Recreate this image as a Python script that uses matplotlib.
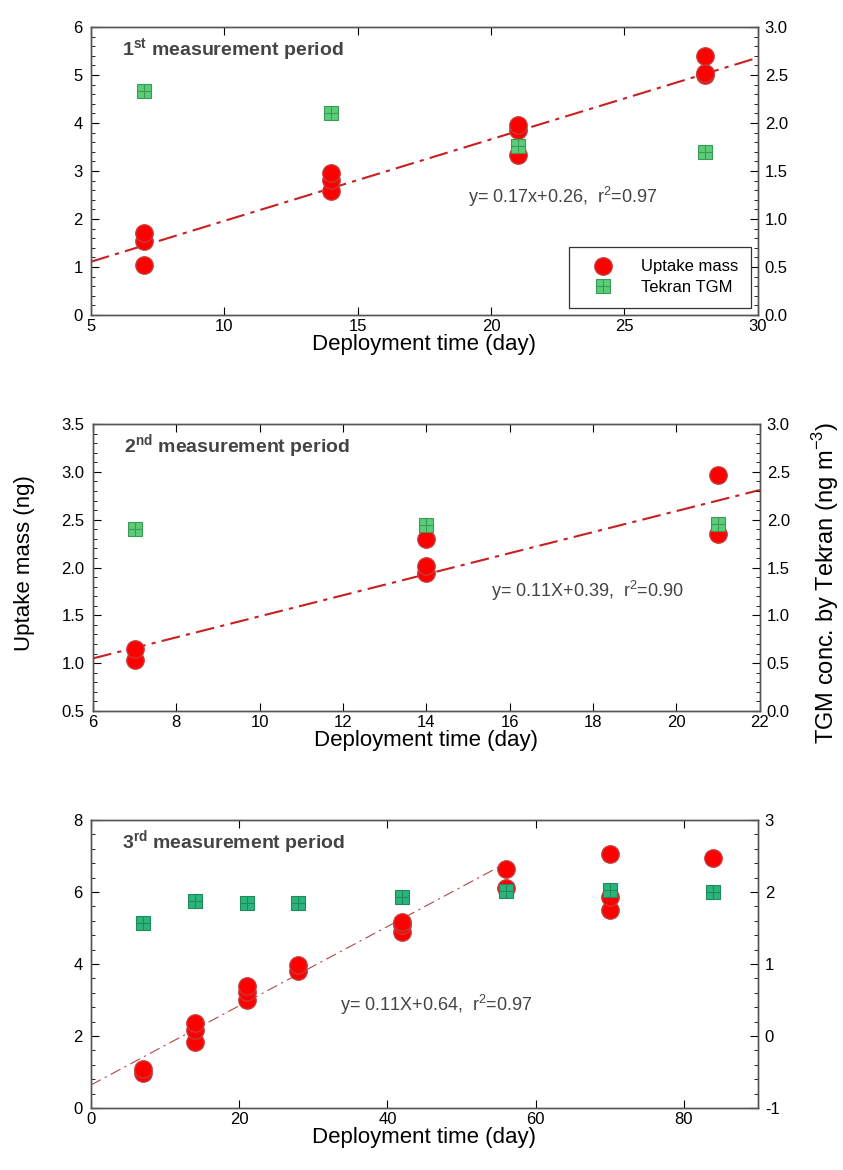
import matplotlib
matplotlib.use("Agg")
import matplotlib.pyplot as plt
import numpy as np
from matplotlib.ticker import MultipleLocator, FormatStrFormatter

plt.rcParams['font.family'] = ['Liberation Sans', 'DejaVu Sans']
plt.rcParams['mathtext.fontset'] = 'custom'
plt.rcParams['mathtext.rm'] = 'Liberation Sans'
plt.rcParams['mathtext.bf'] = 'Liberation Sans:bold'
plt.rcParams['axes.unicode_minus'] = False

# Periode 1
p1_days = [7, 7, 7, 14, 14, 14, 21, 21, 21, 28, 28, 28]
p1_mass = [1.05, 1.55, 1.70, 2.58, 2.82, 2.95, 3.33, 3.85, 3.95, 5.00, 5.05, 5.40]
p1_tgm_days = [7, 14, 21, 28]
p1_tgm = [2.33, 2.10, 1.76, 1.70]
p1_fit = (0.17, 0.26, 5, 30)

# Periode 2
p2_days = [7, 7, 14, 14, 14, 21, 21]
p2_mass = [1.03, 1.15, 1.94, 2.02, 2.30, 2.35, 2.97]
p2_tgm_days = [7, 14, 21]
p2_tgm = [1.90, 1.94, 1.96]
p2_fit = (0.11, 0.39, 6, 22)

# Periode 3
p3_days = [7, 7, 14, 14, 14, 21, 21, 21, 28, 28, 42, 42, 42, 56, 56, 70, 70, 70, 84]
p3_mass = [0.98, 1.08, 1.84, 2.17, 2.35, 3.00, 3.22, 3.38, 3.80, 3.97,
           4.88, 5.08, 5.17, 6.10, 6.65, 5.50, 5.85, 7.06, 6.95]
p3_tgm_days = [7, 14, 21, 28, 42, 56, 70, 84]
p3_tgm = [1.57, 1.88, 1.84, 1.84, 1.93, 2.02, 2.03, 2.00]
p3_fit = (0.11, 0.64, 0, 55)

txt_col = '#444444'

fig = plt.figure(figsize=(8.43, 11.7), dpi=100)


def panel(rect, days, mass, tgm_days, tgm, fit, xlim, xmaj, ylim, ymaj, ymin,
          y2lim, y2maj, y2min, title, eq, eq_pos, sq_col, sq_edge, line_kw, yfmt):
    ax = fig.add_axes(rect)
    ax2 = ax.twinx()
    slope, icpt, x0, x1 = fit
    xx = np.array([x0, x1])
    ax.plot(xx, slope * xx + icpt, **line_kw)
    h1, = ax.plot(days, mass, 'o', ms=12.5, mfc='#ff0000', mec='#c43a3a', mew=1.0,
                  linestyle='none')
    s1, = ax2.plot(tgm_days, tgm, 's', ms=9.5, mfc=sq_col, mec=sq_edge, mew=0.8,
                   linestyle='none')
    s2, = ax2.plot(tgm_days, tgm, '+', ms=9.5, mec=sq_edge, mew=0.8, linestyle='none')
    ax.set_xlim(*xlim)
    ax.set_ylim(*ylim)
    ax2.set_ylim(*y2lim)
    ax.xaxis.set_major_locator(MultipleLocator(xmaj))
    ax.yaxis.set_major_locator(MultipleLocator(ymaj))
    ax.yaxis.set_minor_locator(MultipleLocator(ymin))
    ax2.yaxis.set_major_locator(MultipleLocator(y2maj))
    ax2.yaxis.set_minor_locator(MultipleLocator(y2min))
    ax.tick_params(axis='x', which='major', direction='in', top=True, length=6,
                   labelsize=12, pad=3)
    ax.tick_params(axis='y', which='both', direction='in', right=False, labelsize=12, pad=6)
    ax.tick_params(axis='y', which='major', length=6)
    ax.tick_params(axis='y', which='minor', length=3)
    ax2.tick_params(axis='y', which='both', direction='in', labelsize=12, pad=5)
    ax2.tick_params(axis='y', which='major', length=6)
    ax2.tick_params(axis='y', which='minor', length=3)
    if yfmt:
        ax.yaxis.set_major_formatter(FormatStrFormatter(yfmt[0]))
        ax2.yaxis.set_major_formatter(FormatStrFormatter(yfmt[1]))
    for a in (ax, ax2):
        for sp in a.spines.values():
            sp.set_color('#555555')
            sp.set_linewidth(1.0)
    ax.set_xlabel('Deployment time (day)', fontsize=16, labelpad=0)
    ax.text(0.046, 0.92, title, transform=ax.transAxes, fontsize=14, fontweight='bold',
            color=txt_col, va='center', ha='left')
    ax.text(eq_pos[0], eq_pos[1], eq, transform=ax.transAxes, fontsize=13,
            color=txt_col, va='center', ha='left')
    return ax, ax2, h1, (s1, s2)


line12 = dict(color='#c82020', lw=1.5, linestyle=(0, (9, 3, 2, 3)))
line3 = dict(color='#b04848', lw=0.8, linestyle=(0, (10, 4, 2, 4)))

ax1, ax1b, h1, hs = panel([0.108, 0.7308, 0.791, 0.2462], p1_days, p1_mass,
                          p1_tgm_days, p1_tgm, p1_fit, (5, 30), 5, (0, 6), 1, 0.2,
                          (0, 3), 0.5, 0.1, r'1$^{\bf st}$ measurement period',
                          r'y= 0.17x+0.26,  r$^2$=0.97', (0.565, 0.41),
                          '#5ccc78', '#3b9a55', line12, ('%d', '%.1f'))
leg = ax1b.legend([h1, hs], ['Uptake mass', 'Tekran TGM'], loc='lower right',
                  bbox_to_anchor=(0.99, 0.025), fontsize=12, fancybox=False,
                  edgecolor='#333333', framealpha=1, handletextpad=1.0,
                  borderpad=0.75, handlelength=2.6, labelspacing=0.35,
                  borderaxespad=0.0)
leg.get_frame().set_linewidth(0.9)

ax2a, ax2b, _, _ = panel([0.1103, 0.3923, 0.791, 0.2453], p2_days, p2_mass,
                         p2_tgm_days, p2_tgm, p2_fit, (6, 22), 2, (0.5, 3.5), 0.5, 0.1,
                         (0, 3), 0.5, 0.1, r'2$^{\bf nd}$ measurement period',
                         r'y= 0.11X+0.39,  r$^2$=0.90', (0.597, 0.42),
                         '#5ccc78', '#3b9a55', line12, ('%.1f', '%.1f'))

ax3a, ax3b, _, _ = panel([0.108, 0.0530, 0.791, 0.2462], p3_days, p3_mass,
                         p3_tgm_days, p3_tgm, p3_fit, (0, 90), 20, (0, 8), 2, 0.4,
                         (-1, 3), 1, 0.2, r'3$^{\bf rd}$ measurement period',
                         r'y= 0.11X+0.64,  r$^2$=0.97', (0.373, 0.358),
                         '#2bb57c', '#1f8a5c', line3, None)

fig.text(25 / 843, 1 - 563 / 1170, 'Uptake mass (ng)', rotation=90, fontsize=16,
         ha='center', va='center')
fig.text(826 / 843, 1 - 583 / 1170, r'TGM conc. by Tekran (ng m$^{-3}$)', rotation=90,
         fontsize=17, ha='center', va='center')

fig.savefig('out.png', dpi=100)
